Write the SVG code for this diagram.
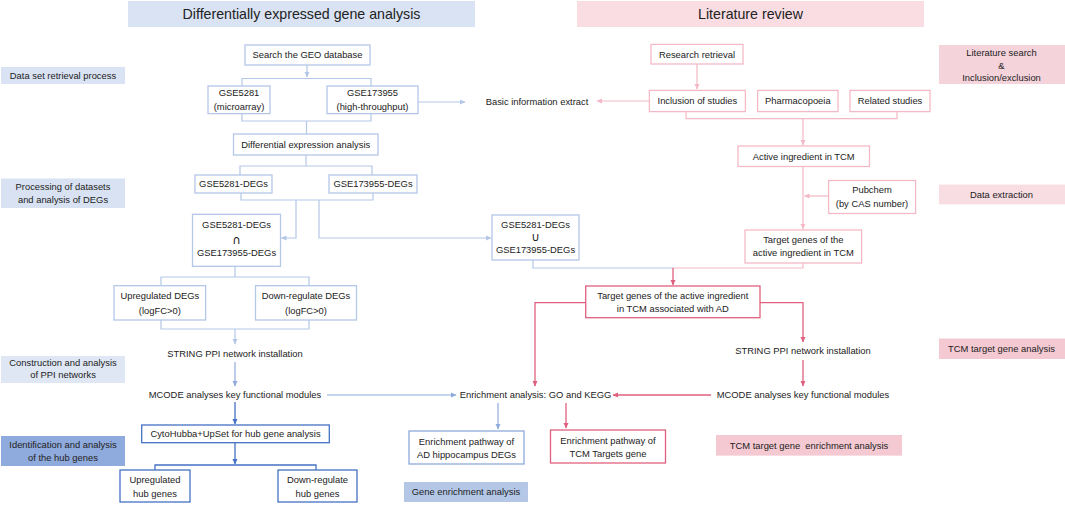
<svg xmlns="http://www.w3.org/2000/svg" width="1065" height="505" viewBox="0 0 1065 505">
<defs>
<marker id="aLB" markerWidth="6" markerHeight="6" refX="5" refY="3" orient="auto" markerUnits="userSpaceOnUse"><path d="M0,0.5 L5.5,3 L0,5.5 Z" fill="#b4c7e7"/></marker>
<marker id="aMB" markerWidth="6" markerHeight="6" refX="5" refY="3" orient="auto" markerUnits="userSpaceOnUse"><path d="M0,0.5 L5.5,3 L0,5.5 Z" fill="#8faadc"/></marker>
<marker id="aDB" markerWidth="6" markerHeight="6" refX="5" refY="3" orient="auto" markerUnits="userSpaceOnUse"><path d="M0,0.5 L5.5,3 L0,5.5 Z" fill="#4472c4"/></marker>
<marker id="aLP" markerWidth="6" markerHeight="6" refX="5" refY="3" orient="auto" markerUnits="userSpaceOnUse"><path d="M0,0.5 L5.5,3 L0,5.5 Z" fill="#f4b9c6"/></marker>
<marker id="aDP" markerWidth="6" markerHeight="6" refX="5" refY="3" orient="auto" markerUnits="userSpaceOnUse"><path d="M0,0.5 L5.5,3 L0,5.5 Z" fill="#e0617f"/></marker>
</defs>
<style>
text{font-family:"Liberation Sans",Arial,"DejaVu Sans",sans-serif;font-size:9.4px;fill:#222;text-anchor:middle;}
.hd{font-size:14.2px;}
.sym{font-size:12px;font-family:"DejaVu Sans",sans-serif;}
.bl{fill:#fff;stroke:#b4c7e7;stroke-width:1.3;}
.bm{fill:#fff;stroke:#8faadc;stroke-width:1.3;}
.bd{fill:#fff;stroke:#4472c4;stroke-width:1.3;}
.pl{fill:#fff;stroke:#f4b9c6;stroke-width:1.3;}
.pd{fill:#fff;stroke:#e0617f;stroke-width:1.3;}
.cLB{fill:none;stroke:#b4c7e7;stroke-width:1.2;}
.cMB{fill:none;stroke:#8faadc;stroke-width:1.2;}
.cDB{fill:none;stroke:#4472c4;stroke-width:1.3;}
.cLP{fill:none;stroke:#f4b9c6;stroke-width:1.2;}
.cDP{fill:none;stroke:#e0617f;stroke-width:1.3;}
</style>
<rect width="1065" height="505" fill="#fff"/>

<g id="header-deg"><rect x="128" y="1" width="347" height="26" fill="#dae3f3"/><text class="hd" x="301.5" y="19">Differentially expressed gene analysis</text></g>
<g id="header-lit"><rect x="577" y="1" width="347" height="26" fill="#f9dde3"/><text class="hd" x="750.5" y="19">Literature review</text></g>

<g id="label-dataset"><rect x="1" y="67" width="124" height="17" fill="#dae3f3"/><text x="63" y="78.8">Data set retrieval process</text></g>
<g id="label-processing"><rect x="1" y="178.5" width="124" height="29.5" fill="#d9e2f3"/><text x="63" y="190">Processing of datasets</text><text x="63" y="202.6">and analysis of DEGs</text></g>
<g id="label-ppi"><rect x="1" y="356" width="124" height="27" fill="#dfe7f5"/><text x="63" y="366">Construction and analysis</text><text x="63" y="378.1">of PPI networks</text></g>
<g id="label-hub"><rect x="1" y="436" width="124" height="30" fill="#8faadc"/><text x="63" y="447.6">Identification and analysis</text><text x="63" y="460.7">of the hub genes</text></g>
<g id="label-geneenr"><rect x="404" y="482" width="124" height="20" fill="#b4c7e7"/><text x="466" y="495.3">Gene enrichment analysis</text></g>
<g id="label-litsearch"><rect x="939" y="45" width="126" height="39" fill="#f5d3db"/><text x="1001.5" y="56.3">Literature search</text><text x="1001.5" y="68.8">&amp;</text><text x="1001.5" y="81.3">Inclusion/exclusion</text></g>
<g id="label-dataext"><rect x="939" y="184.6" width="126" height="19.8" fill="#f8dde3"/><text x="1001.5" y="197.8">Data extraction</text></g>
<g id="label-tcmtarget"><rect x="939" y="338.5" width="126" height="20.5" fill="#f4c9d2"/><text x="1001.5" y="352">TCM target gene analysis</text></g>
<g id="label-tcmenr"><rect x="716" y="435" width="186" height="20.6" fill="#f4c9d2"/><text x="809" y="448.6" xml:space="preserve">TCM target gene  enrichment analysis</text></g>

<g id="connectors">
<path class="cLB" d="M307,65 V77" marker-end="url(#aLB)"/>
<path class="cLB" d="M242,86 V78.5 H371 V86"/>
<path class="cLB" d="M242,113.6 V121 H371 V113.6 M306.5,121 V134"/>
<path class="cLB" d="M418,102 H465" marker-end="url(#aLB)"/>
<path class="cLB" d="M306,155 V166 M240,175 V166 H372 V175"/>
<path class="cLB" d="M241,193 V200 H373 V193"/>
<path class="cLB" d="M296,200 V238 H281.5" marker-end="url(#aLB)"/>
<path class="cLB" d="M319,200 V238 H491" marker-end="url(#aLB)"/>
<path class="cLB" d="M235,266 V277 M161,285.7 V277 H309 V285.7"/>
<path class="cLB" d="M161,320 V329 H309 V320"/>
<path class="cLB" d="M235,329 V344" marker-end="url(#aLB)"/>
<path class="cMB" d="M235,362 V386" marker-end="url(#aMB)"/>
<path class="cMB" d="M327,395 H456" marker-end="url(#aMB)"/>
<path class="cMB" d="M498,403 V429" marker-end="url(#aMB)"/>
<path class="cDB" d="M235,402 V424" marker-end="url(#aDB)"/>
<path class="cDB" d="M235,443 V464" marker-end="url(#aDB)"/>
<path class="cDB" d="M155,470 V465 H316 V470"/>
<path class="cLB" d="M533,260 V268 H673"/>
<path class="cLP" d="M673,268 H803 V263"/>
<path class="cDP" d="M673,268 V285" marker-end="url(#aDP)"/>
<path class="cLP" d="M697,64 V89" marker-end="url(#aLP)"/>
<path class="cLP" d="M649,101 H597" marker-end="url(#aLP)"/>
<path class="cLP" d="M686,111.6 V118.7 H897 V111.6"/>
<path class="cLP" d="M803,118.7 V145" marker-end="url(#aLP)"/>
<path class="cLP" d="M803,166.5 V229" marker-end="url(#aLP)"/>
<path class="cLP" d="M828.6,196 H804.5" marker-end="url(#aLP)"/>
<path class="cDP" d="M585.7,302.7 H535 V386" marker-end="url(#aDP)"/>
<path class="cDP" d="M760,302.7 H803 V342" marker-end="url(#aDP)"/>
<path class="cDP" d="M803,360 V386" marker-end="url(#aDP)"/>
<path class="cDP" d="M711,395 H613" marker-end="url(#aDP)"/>
<path class="cDP" d="M566,403 V428" marker-end="url(#aDP)"/>
</g>

<g id="n-geo"><rect class="bl" x="245" y="45" width="125" height="20"/><text x="307.5" y="58.3">Search the GEO database</text></g>
<g id="n-gse5281"><rect class="bl" x="208" y="86" width="62" height="27.6"/><text x="239" y="96.3">GSE5281</text><text x="239" y="110">(microarray)</text></g>
<g id="n-gse173955"><rect class="bl" x="327" y="86" width="91" height="27.6"/><text x="372.5" y="96.3">GSE173955</text><text x="372.5" y="110">(high-throughput)</text></g>
<g id="n-basicinfo"><text x="537" y="105">Basic information extract</text></g>
<g id="n-diff"><rect class="bl" x="233.5" y="134" width="144.5" height="21"/><text x="305.7" y="147.8">Differential expression analysis</text></g>
<g id="n-deg5281"><rect class="bl" x="195" y="175" width="77" height="18"/><text x="233.5" y="187.3">GSE5281-DEGs</text></g>
<g id="n-deg173955"><rect class="bl" x="329" y="175" width="88" height="18"/><text x="373" y="187.3">GSE173955-DEGs</text></g>
<g id="n-intersect"><rect class="bl" x="192.5" y="214.3" width="88" height="52"/><text x="236.5" y="228.3">GSE5281-DEGs</text><text class="sym" x="236.5" y="244">∩</text><text x="236.5" y="256">GSE173955-DEGs</text></g>
<g id="n-union"><rect class="bl" x="492" y="215" width="87" height="45"/><text x="535.5" y="228.3">GSE5281-DEGs</text><text class="sym" x="535.5" y="241">∪</text><text x="535.5" y="253.3">GSE173955-DEGs</text></g>
<g id="n-updeg"><rect class="bl" x="114" y="285.7" width="91.6" height="34.3"/><text x="159.8" y="299.3">Upregulated DEGs</text><text x="159.8" y="313.6">(logFC&gt;0)</text></g>
<g id="n-downdeg"><rect class="bl" x="255.5" y="285.7" width="101" height="34.3"/><text x="306" y="299.3">Down-regulate DEGs</text><text x="306" y="313.6">(logFC&gt;0)</text></g>
<g id="n-string-l"><text x="235" y="357.3">STRING PPI network installation</text></g>
<g id="n-mcode-l"><text x="235" y="398.3">MCODE analyses key functional modules</text></g>
<g id="n-cyto"><rect class="bd" x="141.7" y="425" width="187.6" height="17.7"/><text x="235.5" y="437.2">CytoHubba+UpSet for hub gene analysis</text></g>
<g id="n-uphub"><rect class="bd" x="120" y="470" width="70" height="32"/><text x="155" y="483.3">Upregulated</text><text x="155" y="496.6">hub genes</text></g>
<g id="n-downhub"><rect class="bd" x="278" y="470" width="79" height="32"/><text x="317.5" y="483.3">Down-regulate</text><text x="317.5" y="496.6">hub genes</text></g>
<g id="n-enrich"><text x="535.5" y="398.3">Enrichment analysis: GO and KEGG</text></g>
<g id="n-enrAD"><rect class="bm" x="409" y="431" width="115" height="33"/><text x="466.5" y="445.3">Enrichment pathway of</text><text x="466.5" y="458">AD hippocampus DEGs</text></g>
<g id="n-enrTCM"><rect class="pd" x="550.5" y="430" width="115" height="33"/><text x="608" y="444.3">Enrichment pathway of</text><text x="608" y="457">TCM Targets gene</text></g>

<g id="n-research"><rect class="pl" x="651" y="44.4" width="92" height="19.6"/><text x="697" y="57.5">Research retrieval</text></g>
<g id="n-inclusion"><rect class="pl" x="649.4" y="90.4" width="96" height="21.2"/><text x="697.4" y="104.3">Inclusion of studies</text></g>
<g id="n-pharma"><rect class="pl" x="757.6" y="90.4" width="80.4" height="21.2"/><text x="797.8" y="104.3">Pharmacopoeia</text></g>
<g id="n-related"><rect class="pl" x="850" y="90.4" width="80" height="21.2"/><text x="890" y="104.3">Related studies</text></g>
<g id="n-active"><rect class="pl" x="738" y="146" width="131.5" height="20.5"/><text x="803.7" y="159.5">Active ingredient in TCM</text></g>
<g id="n-pubchem"><rect class="pl" x="828.6" y="180.5" width="87" height="33"/><text x="872" y="193.3">Pubchem</text><text x="872" y="207">(by CAS number)</text></g>
<g id="n-target"><rect class="pl" x="745" y="230" width="116.6" height="33"/><text x="803.3" y="243.3">Target genes of the</text><text x="803.3" y="256.1">active ingredient in TCM</text></g>
<g id="n-targetAD"><rect class="pd" x="585.7" y="286" width="174.3" height="31.7"/><text x="672.8" y="299.3">Target genes of the active ingredient</text><text x="672.8" y="312.3">in TCM associated with AD</text></g>
<g id="n-string-r"><text x="803" y="354.3">STRING PPI network installation</text></g>
<g id="n-mcode-r"><text x="803" y="398.3">MCODE analyses key functional modules</text></g>
</svg>
